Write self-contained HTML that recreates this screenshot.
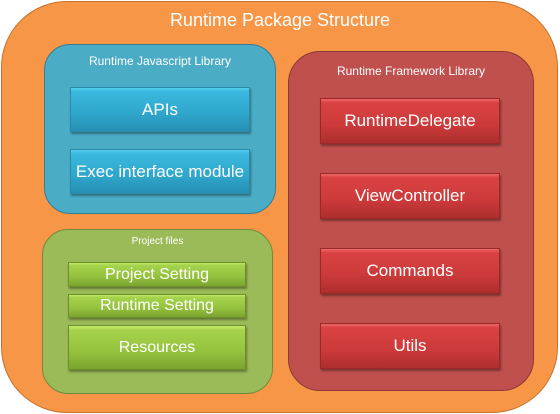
<!DOCTYPE html>
<html><head><style>
body{margin:0;width:560px;height:414px;background:#fff;font-family:"Liberation Sans",sans-serif;position:relative;overflow:hidden}
div{position:absolute;box-sizing:border-box}
.t{color:#fff;text-align:center}
.b{color:#fff;text-align:center;display:flex;align-items:center;justify-content:center;box-shadow:1px 2px 2px rgba(0,0,0,.35)}
.bl{background:linear-gradient(#55d2ee 0,#3bb9df 8%,#2fa6cb 60%,#2690b3 100%);border:1px solid #2a8aa8;font-size:17px}
.rd{background:linear-gradient(#ee6a6a 0,#da4242 8%,#cc3a3a 60%,#ad2e2e 100%);border:1px solid #992828;font-size:17px}
.gr{background:linear-gradient(#c4ea6c 0,#a6d34c 10%,#94c23e 60%,#7ba32f 100%);border:1px solid #6d8f2a;font-size:16px}
</style></head><body>
<div style="left:1px;top:1px;width:557px;height:412px;border-radius:66px;background:#f79646;border:1.5px solid #c4722e"></div>
<div class="t" style="left:0;top:10px;width:560px;font-size:18px">Runtime Package Structure</div>

<div style="left:44px;top:44px;width:232px;height:170px;border-radius:26px;background:#4bacc6;border:1.5px solid #357d92"></div>
<div class="t" style="left:44px;top:54px;width:232px;font-size:12px">Runtime Javascript Library</div>
<div class="b bl" style="left:70px;top:87px;width:180px;height:45px">APIs</div>
<div class="b bl" style="left:70px;top:149px;width:180px;height:45px">Exec interface module</div>

<div style="left:288px;top:51px;width:246px;height:340px;border-radius:32px;background:#c0504d;border:1.5px solid #8c3836"></div>
<div class="t" style="left:288px;top:64px;width:246px;font-size:12px">Runtime Framework Library</div>
<div class="b rd" style="left:320px;top:98px;width:180px;height:46px">RuntimeDelegate</div>
<div class="b rd" style="left:320px;top:173px;width:180px;height:46px">ViewController</div>
<div class="b rd" style="left:320px;top:248px;width:180px;height:46px">Commands</div>
<div class="b rd" style="left:320px;top:323px;width:180px;height:46px">Utils</div>

<div style="left:42px;top:229px;width:231px;height:165px;border-radius:26px;background:#9bbb59;border:1.5px solid #6f8a3c"></div>
<div class="t" style="left:42px;top:236px;width:231px;font-size:10px">Project files</div>
<div class="b gr" style="left:68px;top:262px;width:178px;height:25px">Project Setting</div>
<div class="b gr" style="left:68px;top:294px;width:178px;height:24px">Runtime Setting</div>
<div class="b gr" style="left:68px;top:325px;width:178px;height:45px">Resources</div>
</body></html>
